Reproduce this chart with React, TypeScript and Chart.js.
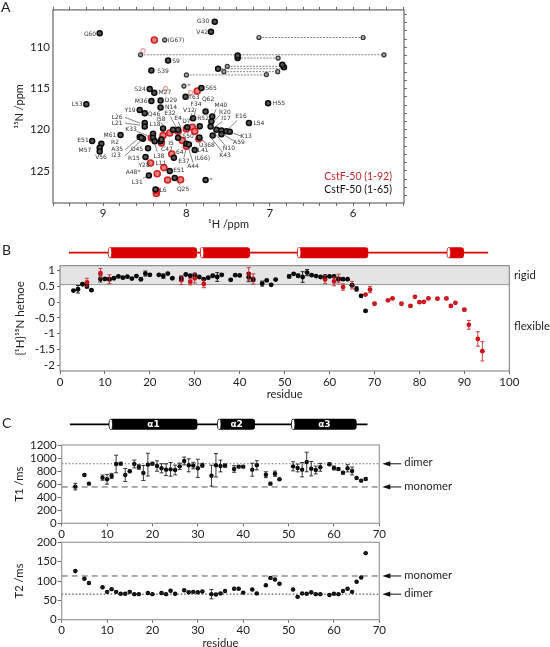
import React, { useEffect, useRef } from "react";
import { Chart, registerables } from "chart.js";

Chart.register(...registerables);

const FONT = 'Lato, "Open Sans", sans-serif';

// ---------- Panel A: HSQC peaks [1H ppm, 15N ppm]
const peaksBlack: number[][] = [
  [7.66, 106.9], [7.705, 108.1], [9.04, 108.3], [8.22, 111.6], [8.42, 112.8], [7.62, 112.6], [6.83, 112.4], [6.85, 112.1],
  [7.385, 111.3], [7.385, 111.0], [8.44, 115.06], [8.385, 115.5], [7.82, 114.94], [8.01, 116.0], [9.2, 116.9], [7.02, 116.78],
  [8.42, 116.5], [8.31, 116.46], [8.31, 117.3], [8.56, 117.6], [8.5, 118.0], [7.77, 117.8], [7.25, 119.2], [8.5, 119.2], [8.5, 119.6],
  [9.13, 121.36], [9.02, 121.7], [9.04, 122.2], [9.04, 122.65], [8.79, 120.65], [8.56, 120.9], [8.52, 121.1], [8.54, 120.97],
  [8.4, 120.5], [8.4, 120.97], [8.38, 121.4], [8.31, 121.4], [8.3, 121.2], [8.46, 122.25], [8.49, 123.3], [8.15, 123.4],
  [8.0, 121.7], [7.97, 121.8], [8.28, 119.85], [8.16, 120.0], [8.1, 120.0], [7.99, 119.7], [7.92, 118.6], [7.69, 118.4], [7.7, 119.0],
  [7.71, 119.6], [7.84, 119.57], [7.64, 120.0], [7.58, 120.1], [7.52, 120.2], [7.48, 120.25], [7.685, 120.7], [7.845, 120.95],
  [7.9, 122.45], [8.45, 125.55], [8.2, 125.0], [8.14, 125.87], [8.37, 127.26], [7.77, 126.1], [8.1, 120.97], [7.58, 120.56],
];
const peaksGray: number[][] = [
  [7.13, 108.8], [5.88, 108.8], [8.55, 110.9], [5.63, 110.9], [7.51, 112.3], [7.55, 112.95], [6.905, 112.95], [8.0, 113.35],
  [7.04, 113.3], [6.9, 111.3], [8.03, 114.7], [8.26, 109.1],
];
const peaksRed: number[][] = [
  [8.385, 109.1], [7.87, 115.3], [8.43, 124.05], [8.175, 122.95], [8.27, 124.6], [8.35, 125.35], [8.225, 126.1], [8.07, 126.07],
  [8.36, 127.74], [8.36, 127.4], [8.2, 120.4], [8.1, 120.2], [8.0, 119.9], [7.93, 119.7], [7.9, 120.2], [8.28, 120.7], [8.05, 121.3],
  [7.85, 121.1], [8.3, 121.6], [8.42, 121.0], [8.0, 122.0],
];
const peaksPaleRed: number[][] = [[8.52, 110.4], [8.25, 115.0], [7.95, 115.5]];
const peakRows: number[][] = [
  [7.13, 5.88, 108.8], [8.55, 5.63, 110.9], [7.385, 6.9, 111.3], [7.51, 6.83, 112.3], [7.62, 6.83, 112.6], [7.55, 6.905, 112.95], [8.0, 7.04, 113.35],
];
const peakLabels: [string, number, number][] = [
  ["G30", 7.80, 106.9], ["V42", 7.81, 108.2], ["G60", 9.156, 108.45], ["(G67)", 8.125, 109.16], ["S9", 8.125, 111.67], ["S39", 8.28, 112.87],
  ["S24", 8.556, 115.14], ["M27", 8.257, 115.5], ["S65", 7.705, 115.02], ["T63", 7.91, 116.1], ["L53", 9.31, 116.94], ["M36", 8.544, 116.58],
  ["D29", 8.185, 116.46], ["N14", 8.185, 117.3], ["Y19", 8.676, 117.66], ["Q46", 8.388, 118.13], ["F34", 7.885, 116.94], ["Q62", 7.74, 116.34],
  ["M40", 7.585, 117.06], ["R20", 7.537, 117.9], ["I17", 7.525, 118.6], ["E16", 7.345, 118.37], ["L54", 7.13, 119.2], ["H55", 6.89, 116.82],
  ["V12", 7.97, 117.66], ["R52", 7.8, 118.6], ["E32", 8.197, 118.0], ["I58", 8.305, 118.73], ["E4", 8.1, 118.6], ["D7", 8.0, 118.97],
  ["L26", 8.83, 118.5], ["L21", 8.83, 119.2], ["L18", 8.376, 119.33], ["K33", 8.664, 119.93], ["E51", 9.24, 121.36], ["M61", 8.916, 120.65],
  ["R2", 8.856, 121.6], ["A35", 8.83, 122.44], ["I23", 8.844, 123.16], ["M57", 9.216, 122.56], ["V56", 9.024, 123.4], ["D45", 8.592, 122.44],
  ["R15", 8.63, 123.5], ["L38", 8.33, 123.28], ["I5", 8.185, 121.72], ["C47", 8.233, 122.44], ["64", 8.08, 122.8], ["S50", 7.98, 120.77],
  ["E37", 8.03, 123.88], ["A44", 7.92, 124.47], ["L41", 7.8, 122.56], ["(L66)", 7.81, 123.5], ["U368", 7.753, 121.96], ["N10", 7.49, 122.32],
  ["K43", 7.537, 123.16], ["A59", 7.37, 121.6], ["K13", 7.285, 120.77], ["Y28", 8.508, 124.35], ["L11", 8.305, 124.1], ["A48*", 8.64, 125.2],
  ["E51", 8.09, 124.95], ["L31", 8.59, 126.39], ["Q25", 8.04, 127.2], ["L6", 8.28, 127.33], ["*", 7.705, 126.15], ["*", 7.97, 114.78],
];
const peakLeaders: number[][] = [
  [8.736, 118.5, 8.556, 119.2], [8.736, 119.2, 8.556, 119.45], [8.6, 120.17, 8.46, 120.77], [8.736, 122.44, 8.556, 120.9], [8.736, 123.16, 8.52, 121.1],
  [8.35, 122.68, 8.4, 121.0], [7.945, 118.0, 7.92, 118.5], [7.885, 117.4, 7.91, 118.5], [7.39, 118.85, 7.525, 120.2], [7.53, 122, 7.66, 120.4],
  [7.57, 122.7, 7.72, 120.77], [7.43, 121.36, 7.57, 120.5], [7.345, 120.77, 7.5, 120.2], [7.92, 124, 7.98, 122.1], [8.03, 123.4, 8.0, 122.2],
  [8.52, 125.9, 8.45, 125.55], [8.075, 126.75, 8.14, 125.87], [7.57, 119, 7.69, 119.93], [7.6, 118.25, 7.69, 119.2], [7.645, 117.54, 7.69, 118.5],
  [7.78, 121.5, 7.85, 121], [8.305, 119.1, 8.26, 119.8], [8.19, 118.4, 8.12, 119.8], [8.1, 119, 8.065, 119.8], [8, 119.33, 7.99, 119.8],
];

// ---------- Panel B: {1H}15N heteronuclear NOE
const noeBlackRes = [3, 4, 5, 6, 7, 9, 10, 11, 12, 13, 14, 15, 16, 17, 18, 19, 20, 22, 23, 24, 25, 27, 28, 29, 30, 31, 32, 33, 34, 35, 36, 38, 39, 40, 42, 43, 45, 46, 47, 48, 51, 52, 53, 54, 55, 56, 57, 58, 59, 60, 61, 62, 63, 64, 65, 66, 67, 68];
const noeBlackVal = [0.37, 0.41, 0.57, 0.5, 0.38, 0.74, 0.74, 0.73, 0.76, 0.82, 0.78, 0.81, 0.75, 0.83, 0.73, 0.91, 0.87, 0.87, 0.83, 0.91, 0.76, 0.76, 0.88, 0.84, 0.87, 0.8, 0.73, 0.78, 0.84, 0.8, 0.87, 0.71, 0.86, 0.85, 0.79, 0.71, 0.59, 0.69, 0.55, 0.72, 0.82, 0.9, 0.84, 0.8, 0.94, 0.86, 0.83, 0.8, 0.82, 0.82, 0.82, 0.73, 0.73, 0.73, 0.54, 0.42, 0.2, -0.28];
const noeBlackErr = [0.02, 0.12, 0.03, 0.05, 0.02, 0.1, 0.02, 0.05, 0.02, 0.02, 0.02, 0.02, 0.02, 0.02, 0.05, 0.08, 0.03, 0.03, 0.07, 0.03, 0.02, 0.06, 0.02, 0.02, 0.05, 0.02, 0.02, 0.03, 0.03, 0.14, 0.03, 0.02, 0.02, 0.02, 0.14, 0.05, 0.08, 0.02, 0.02, 0.02, 0.05, 0.02, 0.05, 0.17, 0.1, 0.02, 0.02, 0.02, 0.02, 0.02, 0.02, 0.05, 0.03, 0.02, 0.05, 0.07, 0.02, 0.02];
const noeRedRes = [6, 9, 11, 27, 29, 30, 32, 42, 43, 59, 61, 62, 63, 65, 68, 69, 70, 73, 74, 76, 78, 79, 80, 81, 82, 84, 86, 87, 88, 90, 91, 93, 94];
const noeRedVal = [0.63, 0.92, 0.73, 0.7, 0.65, 0.76, 0.58, 0.9, 0.74, 0.72, 0.66, 0.75, 0.48, 0.54, 0.24, 0.4, -0.05, 0.06, 0.12, -0.05, -0.12, 0.17, 0, 0.01, 0.12, 0.11, 0.12, -0.12, -0.02, -0.24, -0.72, -1.17, -1.56];
const noeRedErr = [0.13, 0.15, 0.14, 0.14, 0.1, 0.15, 0.12, 0.2, 0.16, 0.13, 0.14, 0.14, 0.1, 0.12, 0.03, 0.1, 0.02, 0.02, 0.02, 0.02, 0.02, 0.02, 0.02, 0.02, 0.02, 0.02, 0.02, 0.03, 0.02, 0.04, 0.14, 0.23, 0.31];
const rigidLimit = 0.56;
const cartoonB = { from: 2, to: 95.3, helices: [[10.9, 30.5, ""], [31.4, 42.3, ""], [53, 68.6, ""], [86.3, 89.9, ""]] as [number, number, string][] };

// ---------- Panel C: T1 and T2
const t1Res = [3, 5, 6, 9, 10, 11, 12, 13, 14, 15, 16, 17, 18, 19, 20, 21, 22, 23, 24, 25, 26, 27, 28, 29, 30, 31, 33, 34, 35, 36, 38, 39, 40, 42, 43, 45, 46, 47, 48, 51, 52, 53, 54, 55, 56, 57, 59, 60, 61, 62, 63, 64, 65, 66, 67];
const t1Val = [562, 740, 608, 700, 674, 725, 909, 914, 740, 797, 909, 863, 771, 899, 914, 878, 843, 822, 827, 817, 873, 955, 889, 884, 843, 889, 730, 889, 878, 884, 832, 868, 868, 822, 889, 745, 608, 760, 674, 873, 848, 822, 940, 837, 817, 858, 904, 848, 832, 776, 843, 802, 695, 654, 679];
const t1Err = [50, 10, 10, 40, 75, 40, 135, 20, 100, 20, 60, 35, 115, 175, 20, 80, 70, 90, 105, 75, 50, 60, 100, 50, 140, 30, 160, 180, 90, 25, 50, 15, 15, 100, 70, 45, 20, 40, 10, 70, 60, 110, 150, 110, 60, 60, 20, 30, 20, 20, 55, 60, 10, 10, 15];
const t1Dimer = 912;
const t1Monomer = 557;
const t2Res = [3, 5, 6, 9, 10, 11, 12, 13, 14, 15, 16, 17, 19, 20, 22, 23, 24, 25, 27, 28, 29, 30, 31, 33, 34, 35, 36, 38, 39, 40, 42, 43, 45, 46, 47, 48, 51, 52, 53, 54, 55, 56, 57, 59, 60, 61, 62, 63, 64, 65, 66, 67];
const t2Val = [126, 106, 95, 84, 72, 79, 72, 67, 67, 72, 66, 66, 69, 66, 69, 66, 75, 67, 76, 71, 72, 71, 73, 66, 65, 68, 74, 80, 80, 70, 78, 68, 89, 108, 104, 93, 78, 59, 68, 67, 71, 66, 66, 64, 67, 66, 74, 80, 72, 98, 109, 172];
const t2Err = [1, 1, 1, 1, 1, 1, 1, 1, 1, 1, 1, 1, 1, 1, 1, 1, 1, 1, 1, 1, 1, 1, 1, 12, 1, 1, 1, 1, 1, 1, 1, 1, 1, 1, 1, 1, 1, 1, 1, 1, 1, 1, 1, 1, 1, 1, 1, 1, 1, 1, 1, 1];
const t2Monomer = 113;
const t2Dimer = 66;
const cartoonC = { from: 1.8, to: 67.4, helices: [[10.6, 29.9, "α1"], [34.5, 42.6, "α2"], [50.8, 65, "α3"]] as [number, number, string][] };

// ---------- helpers
type Plot = { left: number; top: number; right: number; bottom: number };
const W = 550, H = 647;

function paddingFor(p: Plot, leftW: number, rightW: number, topH: number, bottomH: number) {
  return { left: p.left - leftW, right: W - p.right - rightW, top: p.top - topH, bottom: H - p.bottom - bottomH };
}
const fixWidth = (w: number) => (s: any) => { s.width = w; };
const fixHeight = (h: number) => (s: any) => { s.height = h; };
const plainTick = (v: number) => String(v);

function xy(xs: number[], ys: number[]) {
  return xs.map((x, i) => ({ x, y: ys[i] }));
}

function framePlugin(color: string, width: number) {
  return {
    id: "frame",
    afterDatasetsDraw(chart: any) {
      const a = chart.chartArea, c = chart.ctx;
      c.save();
      c.strokeStyle = color;
      c.lineWidth = width;
      c.strokeRect(a.left, a.top, a.right - a.left, a.bottom - a.top);
      c.restore();
    },
  };
}

function errorBars(id: string, xs: number[], ys: number[], es: number[], color: string) {
  return {
    id,
    afterDatasetsDraw(chart: any) {
      const c = chart.ctx, sx = chart.scales.x, sy = chart.scales.y;
      c.save();
      c.strokeStyle = color;
      c.lineWidth = 0.9;
      xs.forEach((r, i) => {
        const px = sx.getPixelForValue(r);
        const a = sy.getPixelForValue(ys[i] + es[i]);
        const b = sy.getPixelForValue(ys[i] - es[i]);
        c.beginPath();
        c.moveTo(px, a); c.lineTo(px, b);
        c.moveTo(px - 2, a); c.lineTo(px + 2, a);
        c.moveTo(px - 2, b); c.lineTo(px + 2, b);
        c.stroke();
      });
      c.restore();
    },
  };
}

function cartoonPlugin(id: string, spec: any, color: string, gap: number) {
  return {
    id,
    afterDraw(chart: any) {
      const c = chart.ctx, sx = chart.scales.x;
      const cy = chart.chartArea.top - gap, h = 11;
      c.save();
      c.strokeStyle = color;
      c.lineWidth = 1.8;
      c.beginPath();
      c.moveTo(sx.getPixelForValue(spec.from), cy);
      c.lineTo(sx.getPixelForValue(spec.to), cy);
      c.stroke();
      spec.helices.forEach(([a, b, name]: [number, number, string]) => {
        const x0 = sx.getPixelForValue(a), x1 = sx.getPixelForValue(b);
        c.fillStyle = color;
        c.beginPath();
        c.roundRect(x0, cy - h / 2, x1 - x0, h, 3);
        c.fill();
        c.beginPath();
        c.ellipse(x0 + 1, cy, 1.8, h / 2, 0, 0, Math.PI * 2);
        c.fillStyle = "#fff";
        c.fill();
        c.lineWidth = 0.8;
        c.stroke();
        if (name) {
          c.fillStyle = "#fff";
          c.font = 'bold 9px "DejaVu Sans", sans-serif';
          c.textAlign = "center";
          c.textBaseline = "middle";
          c.fillText(name, (x0 + x1) / 2, cy + 0.5);
        }
      });
      c.restore();
    },
  };
}

function textPlugin(id: string, items: { t: string; x: number; y: number; color?: string; size?: number; align?: any }[]) {
  return {
    id,
    afterDraw(chart: any) {
      const c = chart.ctx;
      c.save();
      c.textBaseline = "middle";
      items.forEach((i) => {
        c.fillStyle = i.color || "#222";
        c.font = `${i.size || 12}px ${FONT}`;
        c.textAlign = i.align || "left";
        c.fillText(i.t, i.x, i.y);
      });
      c.restore();
    },
  };
}

function arrowPlugin(id: string, marks: [string, number][]) {
  return {
    id,
    afterDraw(chart: any) {
      const c = chart.ctx, a = chart.chartArea, sy = chart.scales.y;
      c.save();
      marks.forEach(([name, v]) => {
        const y = sy.getPixelForValue(v);
        const tip = a.right + 3, tail = a.right + 22;
        c.strokeStyle = "#111";
        c.fillStyle = "#111";
        c.lineWidth = 1;
        c.beginPath(); c.moveTo(tip + 3, y); c.lineTo(tail, y); c.stroke();
        c.beginPath(); c.moveTo(tip, y); c.lineTo(tip + 8, y - 2.6); c.lineTo(tip + 8, y + 2.6); c.closePath(); c.fill();
        c.font = `11.3px ${FONT}`;
        c.textAlign = "left";
        c.textBaseline = "middle";
        c.fillStyle = "#222";
        c.fillText(name, tail + 3, y - 1);
      });
      c.restore();
    },
  };
}

const peakLabelPlugin = {
  id: "peakLabels",
  afterDatasetsDraw(chart: any) {
    const c = chart.ctx, sx = chart.scales.x, sy = chart.scales.y;
    c.save();
    c.fillStyle = "#333";
    c.font = '6px "DejaVu Sans", sans-serif';
    c.textAlign = "center";
    c.textBaseline = "middle";
    peakLabels.forEach(([t, h, n]) => c.fillText(t, sx.getPixelForValue(h), sy.getPixelForValue(n)));
    c.restore();
  },
};

function scatter(data: any[], fill: string, stroke: string, r: number, bw: number, order: number) {
  return { type: "scatter", data, backgroundColor: fill, borderColor: stroke, pointRadius: r, pointBorderWidth: bw, pointHoverRadius: r, order, xAxisID: "x", yAxisID: "y" };
}
function refLine(x0: number, x1: number, y: number, dash: number[], color: string, width: number, order: number) {
  return { type: "scatter", showLine: true, data: [{ x: x0, y }, { x: x1, y }], borderColor: color, borderDash: dash, borderWidth: width, pointRadius: 0, order, xAxisID: "x", yAxisID: "y" };
}

const baseOpts = (padding: any) => ({
  responsive: false,
  animation: false as const,
  layout: { padding, autoPadding: false },
  plugins: { legend: { display: false }, tooltip: { enabled: false } },
});

const tick = (size: number, extra: any = {}) => ({ font: { family: FONT, size }, color: "#222", autoSkip: false, maxRotation: 0, includeBounds: false, ...extra });
const grid = (len: number, color = "#444") => ({ drawOnChartArea: false, drawTicks: len > 0, tickLength: len, tickColor: color, tickWidth: 0.8 });

// ---------- configs
function panelA(): any {
  const plot = { left: 53, top: 7, right: 404, bottom: 203 };
  const xMin = 9.6, xMax = 5.39, yMin = 105.45, yMax = 128.9;
  const lines = peakRows.map(([a, b, n]) => ({
    type: "scatter", showLine: true, data: [{ x: a, y: n }, { x: b, y: n }], borderColor: "#777", borderDash: [2, 1.2], borderWidth: 0.9, pointRadius: 0, order: 9, xAxisID: "x", yAxisID: "y",
  }));
  const leaders = peakLeaders.map(([a, b, c, d]) => ({
    type: "scatter", showLine: true, data: [{ x: a, y: b }, { x: c, y: d }], borderColor: "#333", borderWidth: 0.6, pointRadius: 0, order: 1, xAxisID: "x", yAxisID: "y",
  }));
  const pts = (list: number[][]) => list.map(([x, y]) => ({ x, y }));
  return {
    type: "scatter",
    data: {
      datasets: [
        ...lines,
        ...leaders,
        scatter(pts(peaksPaleRed), "#fff", "#eda0a0", 2.1, 1.2, 8),
        scatter(pts(peaksRed), "#e08080", "#d81e1e", 3, 1.6, 7),
        scatter(pts(peaksGray), "#aaa", "#333", 2, 1.2, 3),
        scatter(pts(peaksBlack), "#555", "#0a0a0a", 2.5, 1.5, 2),
      ],
    },
    options: {
      ...baseOpts(paddingFor(plot, 53, 4, 4, 28)),
      scales: {
        x: {
          type: "linear", reverse: true, min: xMax, max: xMin, position: "bottom", afterFit: fixHeight(28),
          border: { display: false }, grid: grid(3),
          ticks: tick(11.5, { stepSize: 0.2, padding: 0, callback: (v: number) => (Math.abs(v - Math.round(v)) < 1e-6 ? String(Math.round(v)) : "") }),
          title: { display: true, text: "¹H /ppm", font: { family: FONT, size: 11 }, color: "#222", padding: 0 },
        },
        xTop: {
          type: "linear", reverse: true, min: xMax, max: xMin, position: "top", afterFit: fixHeight(4),
          border: { display: false }, grid: grid(3), ticks: tick(1, { stepSize: 0.2, display: false }),
        },
        y: {
          type: "linear", reverse: true, min: yMin, max: yMax, position: "left", afterFit: fixWidth(53),
          border: { display: false }, grid: grid(0),
          ticks: tick(11.5, { stepSize: 5, padding: 3, callback: plainTick }),
          title: { display: true, text: "¹⁵N /ppm", font: { family: FONT, size: 11 }, color: "#222", padding: { top: 13, bottom: 0 } },
        },
        yRight: {
          type: "linear", reverse: true, min: yMin, max: yMax, position: "right", afterFit: fixWidth(4),
          border: { display: false }, grid: grid(3), ticks: tick(1, { stepSize: 1, display: false }),
        },
      },
    },
    plugins: [
      framePlugin("#666", 1.2),
      peakLabelPlugin,
      textPlugin("panelA", [
        { t: "A", x: 1, y: 7, size: 14 },
        { t: "CstF-50 (1-92)", x: 392, y: 177, color: "#c1272d", size: 10.5, align: "right" },
        { t: "CstF-50 (1-65)", x: 392, y: 189.5, color: "#111", size: 10.5, align: "right" },
      ]),
    ],
  };
}

function panelB(): any {
  const plot = { left: 60, top: 265.7, right: 509.3, bottom: 371 };
  return {
    type: "scatter",
    data: {
      datasets: [
        scatter(xy(noeBlackRes, noeBlackVal), "#000", "#000", 2.4, 0, 1),
        scatter(xy(noeRedRes, noeRedVal), "#cc0c14", "#cc0c14", 2.4, 0, 2),
        { ...refLine(0, 100, rigidLimit, [], "#999", 1, 9), fill: "end", backgroundColor: "#e4e4e4" },
      ],
    },
    options: {
      ...baseOpts(paddingFor(plot, 60, 0, 0, 30)),
      scales: {
        x: {
          type: "linear", min: 0, max: 100, position: "bottom", afterFit: fixHeight(30),
          border: { display: false }, grid: grid(3),
          ticks: tick(11.5, { stepSize: 10, padding: 1, includeBounds: true, callback: plainTick }),
          title: { display: true, text: "residue", font: { family: FONT, size: 11.3 }, color: "#222", padding: 0 },
        },
        y: {
          type: "linear", min: -2.19, max: 1.16, position: "left", afterFit: fixWidth(60),
          border: { display: false }, grid: grid(3),
          ticks: tick(11.5, { stepSize: 0.5, padding: 2, callback: plainTick }),
          title: { display: true, text: "{¹H}¹⁵N hetnoe", font: { family: FONT, size: 11.5 }, color: "#222", padding: { top: 13, bottom: 0 } },
        },
      },
    },
    plugins: [
      errorBars("errBlackB", noeBlackRes, noeBlackVal, noeBlackErr, "#111"),
      errorBars("errRedB", noeRedRes, noeRedVal, noeRedErr, "#c8262c"),
      framePlugin("#777", 1),
      cartoonPlugin("cartoonB", cartoonB, "#d80000", 13),
      textPlugin("panelB", [
        { t: "B", x: 2, y: 250, size: 14 },
        { t: "rigid", x: 514, y: 275.5, size: 11.3 },
        { t: "flexible", x: 514, y: 326.5, size: 11.3 },
      ]),
    ],
  };
}

function panelC1(): any {
  const plot = { left: 61.7, top: 445, right: 379.3, bottom: 523.3 };
  return {
    type: "scatter",
    data: {
      datasets: [
        scatter(xy(t1Res, t1Val), "#000", "#000", 2.2, 0, 1),
        refLine(0, 70, t1Dimer, [1.5, 2], "#666", 1.1, 5),
        refLine(0, 70, t1Monomer, [6, 4], "#555", 1, 5),
      ],
    },
    options: {
      ...baseOpts(paddingFor(plot, 61.7, 0, 0, 20)),
      scales: {
        x: {
          type: "linear", min: 0, max: 70, position: "bottom", afterFit: fixHeight(20),
          border: { display: false }, grid: grid(3),
          ticks: tick(11.5, { stepSize: 10, padding: 1, includeBounds: true, callback: plainTick }),
        },
        y: {
          type: "linear", min: 0, max: 1200, position: "left", afterFit: fixWidth(61.7),
          border: { display: false }, grid: grid(4),
          ticks: tick(11.5, { stepSize: 200, padding: 1, includeBounds: true, callback: plainTick }),
          title: { display: true, text: "T1 /ms", font: { family: FONT, size: 11.3 }, color: "#222", padding: { top: 13, bottom: 0 } },
        },
      },
    },
    plugins: [
      errorBars("errT1", t1Res, t1Val, t1Err, "#222"),
      framePlugin("#999", 1.2),
      cartoonPlugin("cartoonC", cartoonC, "#000", 20.7),
      arrowPlugin("arrowsT1", [["dimer", t1Dimer], ["monomer", t1Monomer]]),
      textPlugin("panelC", [{ t: "C", x: 2, y: 423, size: 14 }]),
    ],
  };
}

function panelC2(): any {
  const plot = { left: 61.7, top: 542.3, right: 379.3, bottom: 619.7 };
  return {
    type: "scatter",
    data: {
      datasets: [
        scatter(xy(t2Res, t2Val), "#000", "#000", 2.2, 0, 1),
        refLine(0, 70, t2Dimer, [1.5, 2], "#555", 1.1, 5),
        refLine(0, 70, t2Monomer, [6, 4], "#555", 1, 5),
      ],
    },
    options: {
      ...baseOpts(paddingFor(plot, 61.7, 0, 0, 30)),
      scales: {
        x: {
          type: "linear", min: 0, max: 70, position: "bottom", afterFit: fixHeight(30),
          border: { display: false }, grid: grid(3),
          ticks: tick(11.5, { stepSize: 10, padding: 1, includeBounds: true, callback: plainTick }),
          title: { display: true, text: "residue", font: { family: FONT, size: 11.3 }, color: "#222", padding: 0 },
        },
        y: {
          type: "linear", min: 0, max: 200, position: "left", afterFit: fixWidth(61.7),
          border: { display: false }, grid: grid(4),
          ticks: tick(11.5, { stepSize: 50, padding: 1, includeBounds: true, callback: plainTick }),
          title: { display: true, text: "T2 /ms", font: { family: FONT, size: 11.3 }, color: "#222", padding: { top: 13, bottom: 0 } },
        },
      },
    },
    plugins: [
      errorBars("errT2", t2Res, t2Val, t2Err, "#222"),
      framePlugin("#999", 1.2),
      arrowPlugin("arrowsT2", [["monomer", t2Monomer], ["dimer", t2Dimer]]),
    ],
  };
}

export default function App() {
  const refs = [useRef<HTMLCanvasElement>(null), useRef<HTMLCanvasElement>(null), useRef<HTMLCanvasElement>(null), useRef<HTMLCanvasElement>(null)];
  useEffect(() => {
    Chart.defaults.font.family = FONT;
    const configs = [panelA(), panelB(), panelC1(), panelC2()];
    const charts = configs.map((cfg, i) => new Chart(refs[i].current as HTMLCanvasElement, cfg));
    return () => charts.forEach((c) => c.destroy());
  }, []);
  return (
    <div style={{ position: "absolute", left: 0, top: 0, width: W, height: H, background: "#fff", overflow: "hidden" }}>
      {refs.map((r, i) => (
        <canvas key={i} ref={r} width={W} height={H} style={{ position: "absolute", left: 0, top: 0, width: W, height: H, display: "block" }} />
      ))}
    </div>
  );
}
